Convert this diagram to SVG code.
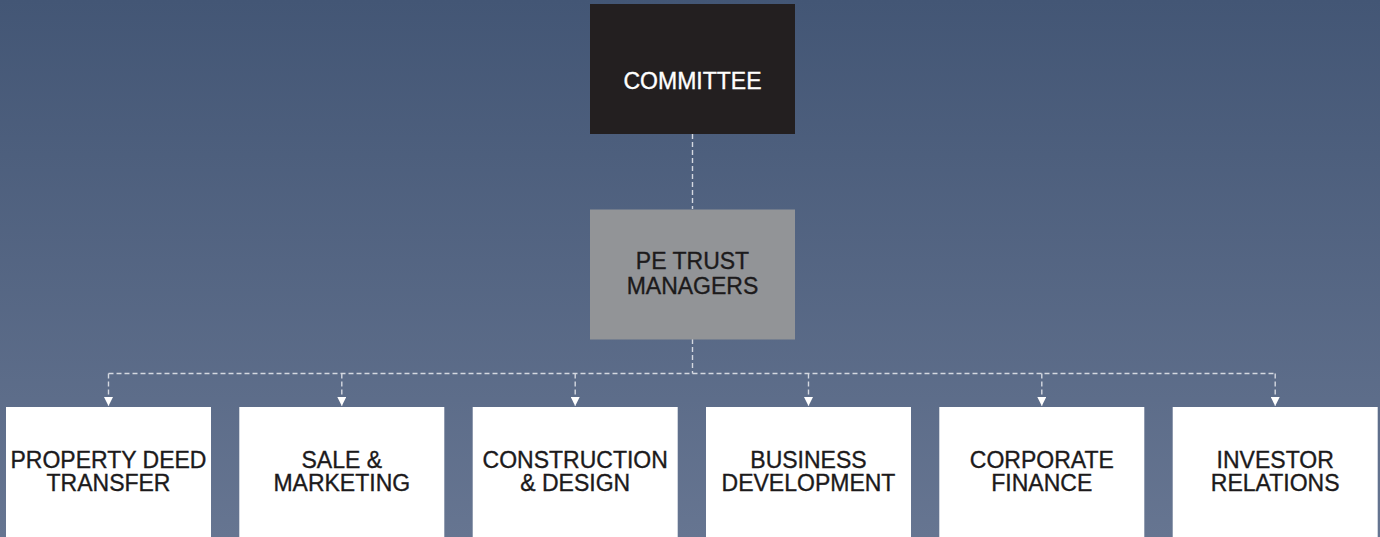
<svg xmlns="http://www.w3.org/2000/svg" width="1380" height="537" viewBox="0 0 1380 537">
  <defs>
    <linearGradient id="bg" x1="0" y1="0" x2="0" y2="1">
      <stop offset="0" stop-color="#435675"/>
      <stop offset="1" stop-color="#667591"/>
    </linearGradient>
    <marker id="arrow" viewBox="0 0 10 10" refX="10" refY="5" markerWidth="9" markerHeight="9" markerUnits="userSpaceOnUse" orient="auto">
      <path d="M0,0 L10,5 L0,10 Z" fill="#ffffff"/>
    </marker>
  </defs>
  <style>
    .lbl { font-family: "Liberation Sans", Arial, Helvetica, sans-serif; font-size: 23px; text-anchor: middle; stroke-width: 0.35; }
    .dark { fill: #1c1a1b; stroke: #1c1a1b; }
    .light { fill: #ffffff; stroke: #ffffff; }
    .unit { fill: #ffffff; }
    .conn { fill: none; stroke: #d4d8e0; stroke-width: 1.4; stroke-dasharray: 5 3; }
  </style>

  <rect x="0" y="0" width="1380" height="537" fill="url(#bg)"/>

  <!-- dashed reporting lines -->
  <g id="connectors">
    <line class="conn" x1="692.5" y1="134" x2="692.5" y2="209"/>
    <line class="conn" x1="692.5" y1="339" x2="692.5" y2="373.5"/>
    <line class="conn" x1="108.5" y1="373.5" x2="1275.2" y2="373.5"/>
    <line class="conn" x1="108.5" y1="373.5" x2="108.5" y2="406" marker-end="url(#arrow)"/>
    <line class="conn" x1="341.8" y1="373.5" x2="341.8" y2="406" marker-end="url(#arrow)"/>
    <line class="conn" x1="575.2" y1="373.5" x2="575.2" y2="406" marker-end="url(#arrow)"/>
    <line class="conn" x1="808.5" y1="373.5" x2="808.5" y2="406" marker-end="url(#arrow)"/>
    <line class="conn" x1="1041.8" y1="373.5" x2="1041.8" y2="406" marker-end="url(#arrow)"/>
    <line class="conn" x1="1275.2" y1="373.5" x2="1275.2" y2="406" marker-end="url(#arrow)"/>
  </g>

  <g id="committee">
    <rect x="590" y="4" width="205" height="130" fill="#231f20"/>
    <text class="lbl light" x="692.5" y="89" font-size="23.6">COMMITTEE</text>
  </g>

  <g id="pe-trust-managers">
    <rect x="590" y="209.5" width="205" height="130" fill="#929497"/>
    <text class="lbl dark" x="692.5" y="269" font-size="23.8">PE TRUST</text>
    <text class="lbl dark" x="692.5" y="293.5" font-size="23.8">MANAGERS</text>
  </g>

  <g id="property-deed-transfer">
    <rect class="unit" x="6" y="407" width="205" height="140"/>
    <text class="lbl dark" x="108.5" y="467.5">PROPERTY DEED</text>
    <text class="lbl dark" x="108.5" y="491">TRANSFER</text>
  </g>

  <g id="sale-marketing">
    <rect class="unit" x="239.3" y="407" width="205" height="140"/>
    <text class="lbl dark" x="341.8" y="467.5">SALE &amp;</text>
    <text class="lbl dark" x="341.8" y="491">MARKETING</text>
  </g>

  <g id="construction-design">
    <rect class="unit" x="472.7" y="407" width="205" height="140"/>
    <text class="lbl dark" x="575.2" y="467.5">CONSTRUCTION</text>
    <text class="lbl dark" x="575.2" y="491">&amp; DESIGN</text>
  </g>

  <g id="business-development">
    <rect class="unit" x="706" y="407" width="205" height="140"/>
    <text class="lbl dark" x="808.5" y="467.5">BUSINESS</text>
    <text class="lbl dark" x="808.5" y="491">DEVELOPMENT</text>
  </g>

  <g id="corporate-finance">
    <rect class="unit" x="939.3" y="407" width="205" height="140"/>
    <text class="lbl dark" x="1041.8" y="467.5">CORPORATE</text>
    <text class="lbl dark" x="1041.8" y="491">FINANCE</text>
  </g>

  <g id="investor-relations">
    <rect class="unit" x="1172.7" y="407" width="205" height="140"/>
    <text class="lbl dark" x="1275.2" y="467.5">INVESTOR</text>
    <text class="lbl dark" x="1275.2" y="491">RELATIONS</text>
  </g>
</svg>
